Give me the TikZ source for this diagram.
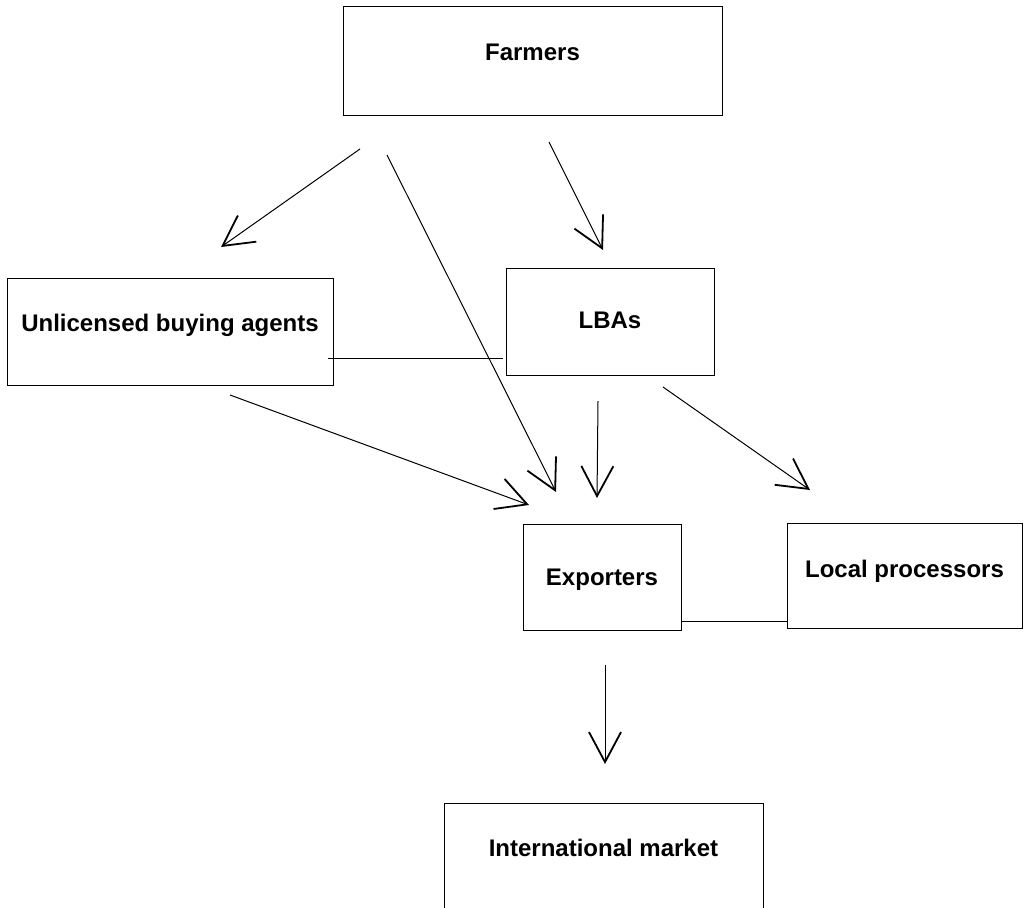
\documentclass[tikz,border=0pt]{standalone}
\usepackage{fontspec}
\setmainfont{Liberation Sans}
\usetikzlibrary{arrows.meta}
\tikzset{
	box/.style={draw, line width=1pt, rectangle, inner sep=0pt, text height=17pt,
		font=\bfseries\fontsize{24}{28}\selectfont},
	flow/.style={line width=1pt, -{Straight Barb[length=30pt,width=32pt,line width=1.8pt]}},
}

\begin{document}
\begin{tikzpicture}[x=1pt,y=-1pt]
	\useasboundingbox (0,0) rectangle (1024,907);
	\node[box, minimum width=379pt, minimum height=108pt, text depth=18pt] (farmers) at (532.5,61) {Farmers};
	\node[box, minimum width=326pt, minimum height=107pt, text depth=17pt] (uba) at (170,331.5) {Unlicensed buying agents};
	\node[box, minimum width=208pt, minimum height=107pt, text depth=3pt] (lba) at (610,321.5) {LBAs};
	\node[box, minimum width=158pt, minimum height=106pt, text depth=0pt] (exp) at (602,577) {Exporters};
	\node[box, minimum width=235pt, minimum height=105pt, text depth=13pt] (lp) at (904.5,575.5) {Local processors};
	\node[box, minimum width=319pt, minimum height=107pt, text depth=17pt] (im) at (603.5,856.5) {International market};

	\coordinate (F1s) at (360,149);
	\coordinate (F1e) at (221,247);
	\coordinate (F2s) at (387,155);
	\coordinate (F2e) at (556,492);
	\coordinate (F3s) at (549,142);
	\coordinate (F3e) at (603,250);
	\coordinate (U1s) at (230,395);
	\coordinate (U1e) at (529,505);
	\coordinate (L1s) at (598,401);
	\coordinate (L1e) at (597,498);
	\coordinate (L2s) at (663,387);
	\coordinate (L2e) at (810,490);
	\coordinate (E1s) at (605,665);
	\coordinate (E1e) at (605,764);
	\coordinate (ULs) at (328,358);
	\coordinate (ULe) at (503,358);

	\draw[flow] (F1s) -- (F1e);
	\draw[flow] (F2s) -- (F2e);
	\draw[flow] (F3s) -- (F3e);
	\draw[flow] (U1s) -- (U1e);
	\draw[flow] (L1s) -- (L1e);
	\draw[flow] (L2s) -- (L2e);
	\draw[flow] (E1s) -- (E1e);
	\draw[line width=1pt] (ULs) -- (ULe);
	\draw[line width=1pt] ([yshift=-44pt]exp.east) -- ([yshift=-44pt]exp.east -| lp.west);
\end{tikzpicture}
\end{document}
